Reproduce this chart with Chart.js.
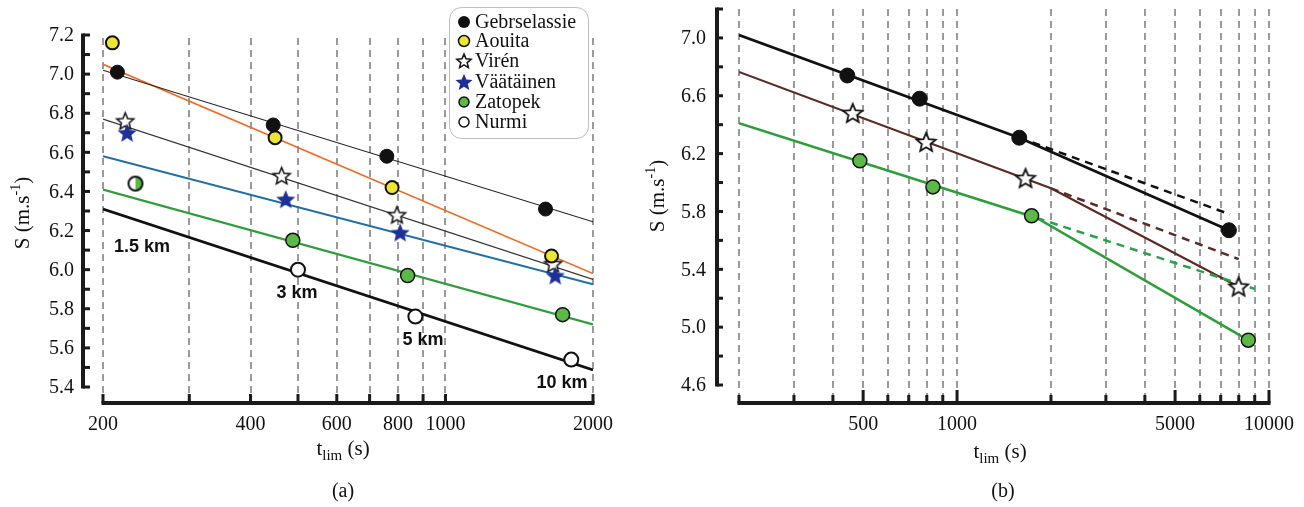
<!DOCTYPE html>
<html><head><meta charset="utf-8">
<script src="https://cdn.jsdelivr.net/npm/chart.js@4.4.0/dist/chart.umd.min.js"></script>
<style>
html,body{margin:0;padding:0;background:#fff;width:1304px;height:507px;overflow:hidden;position:relative}
canvas{position:absolute;top:0}
#ca{left:0}
#cb{left:620px}
</style></head><body>
<canvas id="ca" width="620" height="507"></canvas>
<canvas id="cb" width="684" height="507"></canvas>
<script>
// ---------- DATA: panel (a) ----------
const legendNames = ['Gebrselassie','Aouita','Virén','Väätäinen','Zatopek','Nurmi'];
const distLabels = ['1.5 km','3 km','5 km','10 km'];
const gebA_t = [214, 445, 759, 1600];  const gebA_s = [7.01, 6.74, 6.58, 6.31];
const aouA_t = [209, 449, 778, 1646];  const aouA_s = [7.16, 6.675, 6.42, 6.07];
const virA_t = [222, 463, 796, 1658];  const virA_s = [6.76, 6.48, 6.28, 6.03];
const vaaA_t = [224, 472, 808, 1675];  const vaaA_s = [6.70, 6.36, 6.19, 5.97];
const zatA_t = [233, 488, 837, 1734];  const zatA_s = [6.44, 6.15, 5.97, 5.77];
const nurA_t = [233, 500, 868, 1806];  const nurA_s = [6.45, 6.00, 5.76, 5.54];
const fitA_t = [200, 2000];
const gebFit = [7.02, 6.245];
const aouFit = [7.05, 5.98];
const virFit = [6.77, 5.95];
const vaaFit = [6.58, 5.925];
const zatFit = [6.41, 5.72];
const nurFit = [6.31, 5.487];
const xTicksA = [200, 400, 600, 800, 1000, 2000];
const xGridA = [200, 300, 400, 500, 600, 700, 800, 900, 1000, 2000];
const yTicksA = [5.4, 5.6, 5.8, 6.0, 6.2, 6.4, 6.6, 6.8, 7.0, 7.2];

// ---------- DATA: panel (b) ----------
const gebB_t = [445, 759, 1583, 7439];  const gebB_s = [6.74, 6.58, 6.31, 5.67];
const virB_t = [463, 796, 1658, 7990];  const virB_s = [6.48, 6.28, 6.03, 5.28];
const zatB_t = [488, 837, 1734, 8583];  const zatB_s = [6.15, 5.97, 5.77, 4.91];
const gebLine_t = [200, 1583, 7439];    const gebLine_s = [7.02, 6.31, 5.67];
const virLine_t = [200, 2000, 7990];    const virLine_s = [6.765, 5.96, 5.28];
const zatLine_t = [200, 1800, 8583];    const zatLine_s = [6.41, 5.755, 4.91];
const gebDash_t = [1583, 7500];         const gebDash_s = [6.31, 5.78];
const virDash_t = [2000, 8000];         const virDash_s = [5.96, 5.47];
const zatDash_t = [1800, 9000];         const zatDash_s = [5.755, 5.265];
const xTicksB = [500, 1000, 5000, 10000];
const xGridB = [200,300,400,500,600,700,800,900,1000,2000,3000,4000,5000,6000,7000,8000,9000,10000];
const yTicksB = [4.6, 5.0, 5.4, 5.8, 6.2, 6.6, 7.0];

// ---------- helpers ----------
const pts = (t, s) => t.map((v, i) => ({x: v, y: s[i]}));
function makeStar(R, fill, stroke, lw) {
  const c = document.createElement('canvas');
  const size = Math.ceil(2 * R + 2 * lw + 2);
  c.width = size; c.height = size;
  const g = c.getContext('2d');
  const cx = size / 2, cy = size / 2 + R * 0.08;
  g.beginPath();
  for (let i = 0; i < 10; i++) {
    const r = i % 2 === 0 ? R : R * 0.45;
    const a = -Math.PI / 2 + i * Math.PI / 5;
    const px = cx + r * Math.cos(a), py = cy + r * Math.sin(a);
    if (i === 0) g.moveTo(px, py); else g.lineTo(px, py);
  }
  g.closePath();
  g.fillStyle = fill; g.fill();
  if (stroke) { g.lineWidth = lw; g.strokeStyle = stroke; g.lineJoin = 'miter'; g.stroke(); }
  return c;
}
function makeHalf(R) {
  const c = document.createElement('canvas');
  const size = Math.ceil(2 * R + 4);
  c.width = size; c.height = size;
  const g = c.getContext('2d');
  const cx = size / 2, cy = size / 2;
  g.beginPath(); g.arc(cx, cy, R, 0, Math.PI * 2); g.fillStyle = '#fff'; g.fill();
  g.beginPath(); g.moveTo(cx, cy); g.arc(cx, cy, R, -Math.PI * 0.5, Math.PI * 0.5); g.closePath();
  g.fillStyle = '#5cb947'; g.fill();
  g.beginPath(); g.arc(cx, cy, R, 0, Math.PI * 2); g.lineWidth = 2; g.strokeStyle = '#111'; g.stroke();
  return c;
}
const SERIF = '"Liberation Serif", "DejaVu Serif", serif';
const SANS = '"Liberation Sans", Arial, sans-serif';
const GREEN_FILL = '#5cb947';
const YELLOW = '#ece630';
const BLUE = '#1f2f98';
const BROWN = '#5a2a24';

function lineDS(data, color, width, dash) {
  return {type: 'line', data, showLine: true, borderColor: color, borderWidth: width,
          borderDash: dash || [], pointRadius: 0, fill: false, tension: 0, order: 5};
}
function circleDS(data, fill, r, stroke, bw) {
  return {type: 'scatter', data, pointStyle: 'circle', pointRadius: r,
          backgroundColor: fill, borderColor: stroke || '#111', borderWidth: bw == null ? 1.5 : bw, order: 1};
}
function imgDS(data, img) {
  return {type: 'scatter', data, pointStyle: img, pointRadius: 8, order: 1};
}

function drawText(g, txt, x, y, font, align, base) {
  g.font = font; g.textAlign = align || 'center'; g.textBaseline = base || 'middle';
  g.fillStyle = '#111'; g.fillText(txt, x, y);
}
function drawYTitle(g, x, y) {
  g.save(); g.translate(x, y); g.rotate(-Math.PI / 2);
  g.fillStyle = '#111'; g.textBaseline = 'alphabetic'; g.textAlign = 'left';
  const f = '21px ' + SERIF, fs = '14px ' + SERIF;
  g.font = f; const w1 = g.measureText('S (m.s').width;
  g.font = fs; const w2 = g.measureText('-1').width;
  g.font = f; const w3 = g.measureText(')').width;
  let x0 = -(w1 + w2 + w3) / 2;
  g.font = f; g.fillText('S (m.s', x0, 7);
  g.font = fs; g.fillText('-1', x0 + w1, -2);
  g.font = f; g.fillText(')', x0 + w1 + w2, 7);
  g.restore();
}
function drawXTitle(g, cx, y) {
  g.fillStyle = '#111'; g.textBaseline = 'alphabetic'; g.textAlign = 'left';
  const f = '21px ' + SERIF, fs = '15px ' + SERIF;
  g.font = f; const w1 = g.measureText('t').width;
  g.font = fs; const w2 = g.measureText('lim').width;
  g.font = f; const w3 = g.measureText(' (s)').width;
  let x0 = cx - (w1 + w2 + w3) / 2;
  g.font = f; g.fillText('t', x0, y);
  g.font = fs; g.fillText('lim', x0 + w1, y + 5);
  g.font = f; g.fillText(' (s)', x0 + w1 + w2, y);
}

// ---------- plugin for panel (a) ----------
const axesA = {
  id: 'axesA',
  beforeDatasetsDraw(chart) {
    const g = chart.ctx, xs = chart.scales.x, ys = chart.scales.y;
    g.save();
    g.strokeStyle = '#9a9a9a'; g.lineWidth = 2; g.setLineDash([7, 5]);
    xGridA.forEach(v => {
      const px = Math.round(xs.getPixelForValue(v));
      g.beginPath(); g.moveTo(px, 38); g.lineTo(px, 400); g.stroke();
    });
    g.restore();
  },
  afterDraw(chart) {
    const g = chart.ctx, xs = chart.scales.x, ys = chart.scales.y;
    g.save();
    g.strokeStyle = '#1a1a1a'; g.lineCap = 'butt';
    const ax = 83;
    g.lineWidth = 4;
    g.beginPath(); g.moveTo(ax, ys.getPixelForValue(7.2) - 1.5); g.lineTo(ax, ys.getPixelForValue(5.4) + 1.5); g.stroke();
    g.lineWidth = 3;
    for (let v = 54; v <= 72; v++) {
      const py = ys.getPixelForValue(v / 10);
      g.beginPath(); g.moveTo(ax, py); g.lineTo(ax + 7, py); g.stroke();
    }
    yTicksA.forEach(v => drawText(g, v.toFixed(1), 74, ys.getPixelForValue(v) + 1, '20px ' + SERIF, 'right'));
    const ay = 403;
    g.lineWidth = 4;
    g.beginPath(); g.moveTo(xs.getPixelForValue(200) - 1.5, ay); g.lineTo(xs.getPixelForValue(2000) + 1.5, ay); g.stroke();
    g.lineWidth = 3;
    xGridA.forEach(v => {
      const px = xs.getPixelForValue(v);
      g.beginPath(); g.moveTo(px, ay); g.lineTo(px, ay - 9); g.stroke();
    });
    xTicksA.forEach(v => drawText(g, String(v), xs.getPixelForValue(v), 425, '20px ' + SERIF, 'center'));
    drawXTitle(g, 343, 455);
    drawText(g, '(a)', 343, 492, '20px ' + SERIF, 'center');
    drawYTitle(g, 22, 213);
    const kmPos = [[142, 247], [297, 293], [423, 340], [562, 383]];
    distLabels.forEach((t, i) => drawText(g, t, kmPos[i][0], kmPos[i][1], 'bold 18px ' + SANS, 'center'));
    g.beginPath();
    if (g.roundRect) g.roundRect(449.5, 7.5, 139, 131, 12); else g.rect(449.5, 7.5, 139, 131);
    g.fillStyle = 'rgba(255,255,255,0.95)'; g.fill();
    g.lineWidth = 1; g.strokeStyle = '#bdbdbd'; g.stroke();
    const rowsY = [22, 41, 61, 82, 102, 122];
    const mx = 464;
    legendNames.forEach((name, i) => {
      const y = rowsY[i];
      if (i === 0) { g.beginPath(); g.arc(mx, y, 6, 0, 7); g.fillStyle = '#111'; g.fill(); }
      if (i === 1) { g.beginPath(); g.arc(mx, y, 5.5, 0, 7); g.fillStyle = YELLOW; g.fill(); g.lineWidth = 1.5; g.strokeStyle = '#111'; g.stroke(); }
      if (i === 2) { const im = makeStar(7.5, '#fff', '#111', 1.5); g.drawImage(im, mx - im.width / 2, y - im.height / 2); }
      if (i === 3) { const im = makeStar(9, BLUE, null, 0); g.drawImage(im, mx - im.width / 2, y - im.height / 2); }
      if (i === 4) { g.beginPath(); g.arc(mx, y, 5, 0, 7); g.fillStyle = GREEN_FILL; g.fill(); g.lineWidth = 1.5; g.strokeStyle = '#111'; g.stroke(); }
      if (i === 5) { g.beginPath(); g.arc(mx, y, 5, 0, 7); g.fillStyle = '#fff'; g.fill(); g.lineWidth = 1.5; g.strokeStyle = '#111'; g.stroke(); }
      drawText(g, name, 475, y + 1, '20px ' + SERIF, 'left');
    });
    g.restore();
  }
};

// ---------- plugin for panel (b) ----------
const axesB = {
  id: 'axesB',
  beforeDatasetsDraw(chart) {
    const g = chart.ctx, xs = chart.scales.x;
    g.save();
    g.strokeStyle = '#9a9a9a'; g.lineWidth = 2; g.setLineDash([7, 5]);
    xGridB.forEach(v => {
      const px = Math.round(xs.getPixelForValue(v));
      g.beginPath(); g.moveTo(px, 9); g.lineTo(px, 398); g.stroke();
    });
    g.restore();
  },
  afterDraw(chart) {
    const g = chart.ctx, xs = chart.scales.x, ys = chart.scales.y;
    g.save();
    g.strokeStyle = '#1a1a1a';
    const ax = 97;
    g.lineWidth = 4;
    g.beginPath(); g.moveTo(ax, ys.getPixelForValue(7.2) - 1.5); g.lineTo(ax, ys.getPixelForValue(4.6) + 1.5); g.stroke();
    g.lineWidth = 3;
    for (let v = 46; v <= 72; v += 2) {
      const py = ys.getPixelForValue(v / 10);
      g.beginPath(); g.moveTo(ax, py); g.lineTo(ax + 6, py); g.stroke();
    }
    yTicksB.forEach(v => drawText(g, v.toFixed(1), 86, ys.getPixelForValue(v) + 1, '20px ' + SERIF, 'right'));
    const ay = 403;
    g.lineWidth = 4;
    g.beginPath(); g.moveTo(xs.getPixelForValue(200) - 1.5, ay); g.lineTo(xs.getPixelForValue(10000) + 1.5, ay); g.stroke();
    g.lineWidth = 3;
    xGridB.forEach(v => {
      const px = xs.getPixelForValue(v);
      const major = xTicksB.includes(v);
      g.beginPath(); g.moveTo(px, ay); g.lineTo(px, ay - (major ? 13 : 8)); g.stroke();
    });
    xTicksB.forEach(v => drawText(g, String(v), xs.getPixelForValue(v), 425, '20px ' + SERIF, 'center'));
    drawXTitle(g, 380, 458);
    drawText(g, '(b)', 383, 492, '20px ' + SERIF, 'center');
    drawYTitle(g, 37, 196);
    g.restore();
  }
};

const common = (padding, xmin, xmax, ymin, ymax) => ({
  responsive: false, animation: false, devicePixelRatio: 1,
  layout: {padding},
  plugins: {legend: {display: false}, tooltip: {enabled: false}},
  scales: {
    x: {type: 'logarithmic', min: xmin, max: xmax, display: false},
    y: {type: 'linear', min: ymin, max: ymax, display: false}
  },
  elements: {point: {hoverRadius: 0}}
});

new Chart(document.getElementById('ca'), {
  type: 'scatter',
  data: {datasets: [
    lineDS(pts(fitA_t, gebFit), '#222', 1.2),
    lineDS(pts(fitA_t, aouFit), '#f26a22', 1.6),
    lineDS(pts(fitA_t, virFit), '#333', 1.2),
    lineDS(pts(fitA_t, vaaFit), '#1f6ea6', 2),
    lineDS(pts(fitA_t, zatFit), '#2e9e3a', 2.2),
    lineDS(pts(fitA_t, nurFit), '#111', 2.6),
    circleDS(pts(zatA_t.slice(1), zatA_s.slice(1)), GREEN_FILL, 7, '#111', 1.5),
    circleDS(pts(nurA_t.slice(1), nurA_s.slice(1)), '#fff', 7, '#111', 2),
    imgDS(pts(zatA_t.slice(0, 1), zatA_s.slice(0, 1)), makeHalf(7)),
    circleDS(pts(gebA_t, gebA_s), '#111', 7, '#111', 1),
    circleDS(pts(aouA_t, aouA_s), YELLOW, 6.5, '#111', 2),
    imgDS(pts(vaaA_t, vaaA_s), makeStar(10, BLUE, null, 0)),
    imgDS(pts(virA_t, virA_s), makeStar(9, '#fff', '#111', 1.5))
  ]},
  options: common({left: 103, right: 27, top: 35, bottom: 120}, 200, 2000, 5.4, 7.2),
  plugins: [axesA]
});

new Chart(document.getElementById('cb'), {
  type: 'scatter',
  data: {datasets: [
    lineDS(pts(gebDash_t, gebDash_s), '#111', 2.5, [8, 6]),
    lineDS(pts(virDash_t, virDash_s), BROWN, 2.5, [8, 6]),
    lineDS(pts(zatDash_t, zatDash_s), '#27a24a', 2.5, [8, 6]),
    lineDS(pts(gebLine_t, gebLine_s), '#111', 2.8),
    lineDS(pts(virLine_t, virLine_s), BROWN, 2.2),
    lineDS(pts(zatLine_t, zatLine_s), '#2e9e3a', 2.5),
    circleDS(pts(gebB_t, gebB_s), '#111', 7.5, '#111', 1),
    circleDS(pts(zatB_t, zatB_s), GREEN_FILL, 7, '#111', 1.5),
    imgDS(pts(virB_t, virB_s), makeStar(10, '#fff', '#111', 1.8))
  ]},
  options: common({left: 119, right: 35, top: 4, bottom: 122}, 200, 10000, 4.6, 7.2),
  plugins: [axesB]
});
</script>
</body></html>
